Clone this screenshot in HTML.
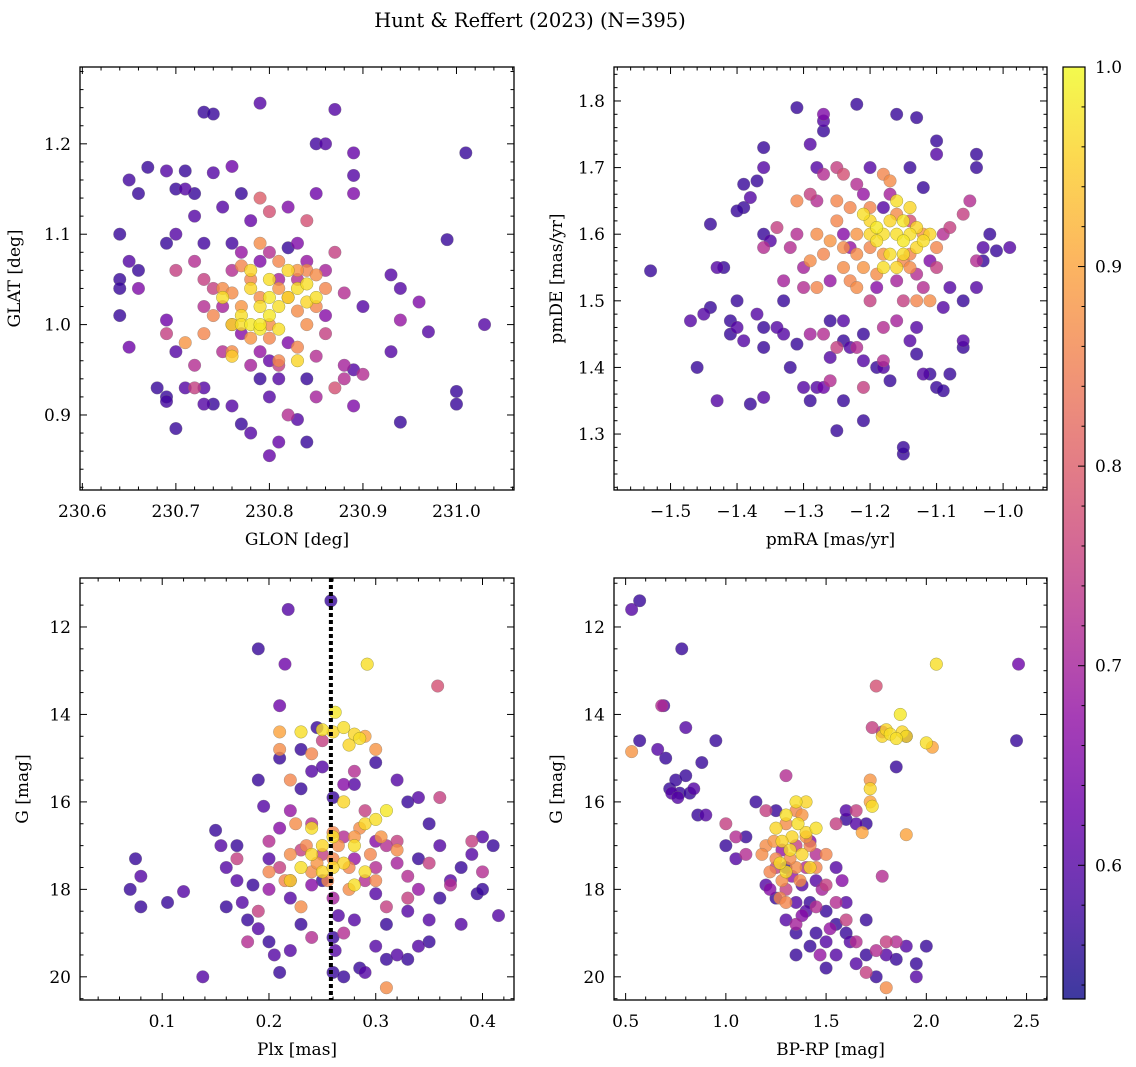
<!DOCTYPE html>
<html><head><meta charset="utf-8"><style>
body{margin:0;background:#fff}
svg{display:block;font-family:"DejaVu Serif","Liberation Serif",serif}
</style></head><body>
<svg id="chart" width="1136" height="1067" viewBox="0 0 1136 1067">
<text x="530" y="27" text-anchor="middle" font-size="19.5">Hunt &amp; Reffert (2023) (N=395)</text>
</svg>
<script>
// ---- data: [x, y, membership probability] ----
const skyPoints = [
[230.73,1.235,.57],[230.74,1.233,.57],[230.79,1.245,.6],[230.87,1.238,.6],[230.85,1.2,.58],[230.86,1.2,.6],[230.89,1.19,.62],[231.01,1.19,.57],[230.67,1.174,.57],[230.69,1.17,.6],[230.71,1.17,.57],[230.74,1.168,.6],[230.76,1.175,.63],[230.65,1.16,.58],[230.66,1.145,.57],[230.70,1.15,.57],[230.71,1.15,.6],[230.72,1.145,.57],[230.75,1.13,.6],[230.77,1.145,.57],[230.82,1.13,.65],[230.85,1.145,.63],[230.89,1.165,.6],[230.89,1.145,.65],[230.78,1.115,.62],[230.72,1.12,.6],[230.64,1.1,.57],[230.70,1.1,.6],[230.69,1.09,.57],[230.73,1.09,.58],[230.76,1.09,.58],[230.82,1.085,.57],[230.93,1.055,.6],[230.99,1.094,.57],[230.65,1.07,.6],[230.66,1.06,.57],[230.64,1.05,.57],[230.64,1.04,.57],[230.66,1.04,.65],[230.64,1.01,.57],[230.65,0.975,.63],[230.68,0.93,.57],[230.69,0.92,.57],[230.69,0.915,.58],[230.70,0.885,.57],[230.73,0.912,.6],[230.74,0.912,.57],[230.73,0.93,.6],[230.76,0.91,.6],[230.77,0.89,.57],[230.78,0.88,.6],[230.80,0.855,.62],[230.81,0.87,.62],[230.84,0.87,.57],[230.83,0.895,.6],[230.84,0.94,.57],[230.81,0.94,.6],[230.79,0.94,.57],[230.80,0.92,.6],[230.89,0.91,.65],[230.94,0.892,.57],[231.0,0.926,.57],[231.0,0.912,.57],[231.03,1.0,.6],[230.97,0.992,.6],[230.93,0.97,.6],[230.96,1.025,.65],[230.94,1.005,.68],[230.94,1.04,.6],[230.90,1.02,.6],[230.88,0.955,.7],[230.89,0.95,.6],[230.71,0.93,.6],[230.70,0.97,.6],[230.69,1.005,.63],
[230.69,0.99,.75],[230.70,1.06,.75],[230.72,1.07,.72],[230.73,1.05,.75],[230.76,1.06,.72],[230.79,1.14,.8],[230.80,1.125,.78],[230.84,1.115,.78],[230.87,1.08,.75],[230.88,1.035,.72],[230.86,0.99,.75],[230.85,0.965,.72],[230.81,0.955,.75],[230.78,0.955,.7],[230.75,0.97,.72],[230.73,1.02,.72],[230.74,1.04,.75],[230.87,0.93,.78],[230.88,0.94,.72],[230.72,0.955,.72],[230.85,0.92,.7],[230.82,0.9,.72],[230.76,1.0,.75],[230.83,1.05,.72],[230.80,1.08,.72],[230.90,0.945,.72],[230.72,0.93,.75],
[230.77,1.08,.68],[230.79,1.07,.65],[230.81,1.05,.7],[230.84,1.07,.68],[230.86,1.01,.66],[230.82,0.98,.65],[230.79,0.97,.68],[230.77,0.99,.66],[230.75,1.02,.7],[230.80,0.96,.62],[230.83,1.09,.65],[230.86,1.06,.7],
[230.71,0.98,.88],[230.75,1.04,.87],[230.77,1.065,.86],[230.79,1.09,.87],[230.81,1.07,.86],[230.83,1.06,.88],[230.85,1.055,.87],[230.86,1.04,.86],[230.84,1.0,.87],[230.83,0.975,.86],[230.78,0.985,.88],[230.76,0.97,.87],[230.74,1.01,.86],[230.80,1.0,.87],[230.82,1.03,.86],[230.79,1.03,.87],[230.85,1.02,.86],[230.77,1.02,.88],[230.73,0.99,.86],[230.81,0.96,.86],
[230.78,1.05,.86],[230.81,1.04,.88],[230.83,1.015,.87],[230.80,0.985,.86],[230.76,1.035,.87],[230.84,1.06,.86],
[230.75,1.03,.97],[230.76,1.0,.96],[230.77,1.01,.97],[230.78,1.0,.98],[230.79,1.02,.97],[230.80,1.01,.98],[230.81,1.02,.97],[230.82,1.03,.96],[230.83,1.04,.97],[230.84,1.025,.96],[230.85,1.03,.97],[230.78,1.04,.96],[230.80,1.05,.97],[230.82,1.06,.96],[230.79,0.995,.98],[230.81,0.995,.97],[230.83,0.96,.96],[230.76,0.965,.95],[230.80,1.03,.98],[230.78,1.06,.96],[230.84,1.045,.97],[230.77,1.0,.97],[230.79,1.0,.98]
];
const pmPoints = [
[-1.53,1.545,.57],[-1.47,1.47,.6],[-1.46,1.40,.57],[-1.44,1.49,.57],[-1.45,1.48,.6],[-1.44,1.615,.57],[-1.43,1.55,.6],[-1.42,1.55,.57],[-1.43,1.35,.6],[-1.40,1.5,.57],[-1.41,1.47,.57],[-1.40,1.46,.6],[-1.41,1.45,.57],[-1.39,1.44,.6],[-1.38,1.345,.57],[-1.36,1.355,.6],[-1.36,1.43,.57],[-1.36,1.46,.57],[-1.37,1.48,.6],[-1.39,1.64,.57],[-1.40,1.635,.57],[-1.39,1.675,.57],[-1.38,1.655,.6],[-1.37,1.68,.57],[-1.36,1.73,.57],[-1.36,1.7,.6],[-1.36,1.6,.57],[-1.35,1.59,.6],[-1.33,1.5,.57],[-1.33,1.45,.6],[-1.31,1.435,.57],[-1.31,1.79,.57],[-1.29,1.735,.6],[-1.28,1.7,.6],[-1.27,1.78,.65],[-1.27,1.77,.6],[-1.27,1.755,.57],[-1.30,1.37,.6],[-1.29,1.35,.57],[-1.28,1.37,.6],[-1.27,1.37,.63],[-1.25,1.305,.57],[-1.24,1.35,.57],[-1.24,1.47,.6],[-1.26,1.47,.57],[-1.22,1.795,.57],[-1.21,1.32,.57],[-1.21,1.41,.6],[-1.19,1.4,.57],[-1.18,1.4,.6],[-1.16,1.78,.57],[-1.15,1.27,.57],[-1.15,1.28,.57],[-1.13,1.775,.57],[-1.12,1.39,.6],[-1.11,1.39,.57],[-1.10,1.37,.57],[-1.09,1.365,.57],[-1.09,1.49,.6],[-1.08,1.39,.57],[-1.06,1.43,.57],[-1.06,1.44,.6],[-1.04,1.7,.57],[-1.04,1.72,.57],[-1.03,1.58,.6],[-1.03,1.56,.57],[-1.01,1.575,.57],[-0.99,1.58,.6],[-1.02,1.6,.57],[-1.04,1.52,.6],[-1.06,1.5,.57],[-1.08,1.52,.6],[-1.10,1.74,.57],[-1.10,1.72,.6],[-1.12,1.67,.57],[-1.14,1.7,.57],[-1.20,1.7,.6],[-1.18,1.64,.6],[-1.24,1.44,.57],[-1.23,1.43,.6],[-1.21,1.45,.57],[-1.14,1.44,.6],[-1.13,1.42,.57],[-1.13,1.46,.6],[-1.17,1.38,.57],[-1.34,1.46,.6],[-1.32,1.4,.57],[-1.26,1.415,.6],
[-1.36,1.58,.72],[-1.34,1.61,.75],[-1.32,1.58,.72],[-1.30,1.55,.7],[-1.29,1.66,.75],[-1.28,1.65,.72],[-1.27,1.69,.72],[-1.25,1.7,.75],[-1.24,1.69,.78],[-1.22,1.675,.72],[-1.30,1.52,.72],[-1.29,1.45,.7],[-1.27,1.45,.72],[-1.25,1.43,.75],[-1.22,1.43,.72],[-1.20,1.5,.75],[-1.18,1.46,.72],[-1.16,1.47,.7],[-1.15,1.5,.75],[-1.12,1.52,.72],[-1.10,1.55,.75],[-1.09,1.6,.72],[-1.06,1.63,.75],[-1.04,1.56,.72],[-1.05,1.65,.72],[-1.08,1.61,.75],[-1.13,1.54,.72],[-1.26,1.38,.72],[-1.21,1.37,.75],[-1.18,1.41,.72],[-1.31,1.6,.72],[-1.33,1.53,.7],[-1.14,1.62,.78],
[-1.23,1.58,.68],[-1.19,1.52,.66],[-1.16,1.53,.7],[-1.21,1.66,.68],[-1.11,1.56,.65],[-1.26,1.53,.68],[-1.17,1.66,.7],[-1.24,1.6,.66],
[-1.31,1.65,.86],[-1.28,1.6,.87],[-1.27,1.57,.86],[-1.26,1.59,.88],[-1.25,1.62,.86],[-1.24,1.55,.87],[-1.23,1.53,.86],[-1.22,1.52,.87],[-1.21,1.55,.88],[-1.20,1.58,.86],[-1.19,1.54,.87],[-1.18,1.69,.86],[-1.17,1.68,.87],[-1.15,1.56,.86],[-1.13,1.5,.86],[-1.11,1.5,.87],[-1.12,1.6,.88],[-1.25,1.65,.86],[-1.29,1.56,.87],[-1.23,1.64,.86],[-1.28,1.52,.86],[-1.22,1.6,.88],[-1.10,1.58,.86],[-1.14,1.55,.87],
[-1.22,1.57,.87],[-1.20,1.64,.86],[-1.18,1.57,.88],[-1.16,1.63,.87],[-1.14,1.57,.86],[-1.24,1.58,.87],
[-1.21,1.63,.97],[-1.20,1.62,.96],[-1.19,1.61,.98],[-1.18,1.6,.97],[-1.17,1.62,.96],[-1.16,1.6,.97],[-1.15,1.59,.98],[-1.14,1.6,.97],[-1.13,1.58,.96],[-1.12,1.59,.97],[-1.11,1.6,.96],[-1.17,1.57,.97],[-1.16,1.55,.96],[-1.18,1.55,.97],[-1.15,1.62,.98],[-1.14,1.64,.96],[-1.19,1.59,.97],[-1.20,1.6,.96],[-1.16,1.65,.97],[-1.13,1.61,.96],[-1.15,1.57,.97]
];
const plxPoints = [
[0.07,18.0,.57],[0.075,17.3,.57],[0.08,17.7,.6],[0.08,18.4,.57],[0.105,18.3,.57],[0.12,18.05,.6],[0.138,20.0,.6],[0.15,16.65,.57],[0.16,17.5,.6],[0.17,17.0,.57],[0.175,18.3,.6],[0.18,18.7,.57],[0.19,12.5,.57],[0.19,15.5,.57],[0.195,16.1,.6],[0.20,19.2,.57],[0.205,19.5,.6],[0.21,13.8,.63],[0.215,12.85,.63],[0.218,11.6,.6],[0.21,15.0,.57],[0.21,19.9,.57],[0.22,19.4,.6],[0.23,14.8,.57],[0.24,15.3,.6],[0.245,14.3,.57],[0.258,11.4,.57],[0.26,19.1,.57],[0.26,19.9,.57],[0.262,19.4,.6],[0.265,18.6,.6],[0.27,20.0,.57],[0.285,19.8,.57],[0.29,19.9,.6],[0.3,19.3,.6],[0.31,19.6,.57],[0.32,19.5,.6],[0.33,19.6,.57],[0.34,19.3,.6],[0.35,19.2,.57],[0.35,18.7,.6],[0.36,18.2,.57],[0.37,17.8,.6],[0.38,17.5,.57],[0.39,17.2,.6],[0.395,18.1,.57],[0.40,16.8,.6],[0.41,17.0,.57],[0.415,18.6,.6],[0.40,18.0,.57],[0.38,18.8,.6],[0.36,17.0,.6],[0.35,16.5,.57],[0.34,15.9,.6],[0.33,16.0,.57],[0.32,15.5,.6],[0.30,15.1,.57],[0.28,15.6,.6],[0.26,15.9,.57],[0.25,15.2,.6],[0.23,15.7,.57],[0.17,17.8,.6],[0.16,18.4,.57],[0.19,18.9,.6],[0.23,18.8,.57],[0.28,18.7,.6],[0.31,18.8,.57],[0.33,18.5,.6],[0.2,17.3,.6],[0.25,17.8,.57],[0.3,18.1,.6],[0.34,17.3,.57],[0.155,17.0,.6],[0.185,17.9,.57],[0.22,18.2,.6],
[0.18,19.2,.72],[0.19,18.5,.75],[0.2,16.9,.72],[0.21,17.5,.75],[0.22,17.8,.72],[0.23,17.1,.75],[0.24,16.5,.72],[0.25,17.2,.75],[0.27,16.8,.72],[0.29,16.2,.75],[0.31,17.0,.72],[0.32,16.9,.75],[0.33,17.7,.72],[0.35,17.4,.75],[0.37,17.9,.72],[0.39,16.9,.75],[0.4,17.6,.72],[0.36,15.9,.75],[0.28,15.3,.72],[0.25,14.6,.75],[0.29,17.8,.72],[0.31,18.4,.75],[0.27,19.0,.72],[0.17,17.3,.75],[0.358,13.35,.78],[0.24,19.1,.72],[0.33,18.2,.75],[0.3,17.5,.72],
[0.22,16.2,.68],[0.24,17.9,.66],[0.26,18.2,.7],[0.28,17.3,.68],[0.3,16.9,.66],[0.32,17.4,.7],[0.2,18.0,.68],[0.27,15.6,.66],[0.34,18.0,.68],[0.21,16.6,.66],
[0.21,14.4,.9],[0.21,14.8,.87],[0.22,15.5,.86],[0.3,14.8,.88],[0.31,20.25,.87],[0.24,14.9,.86],[0.225,16.5,.87],[0.235,17.0,.86],[0.245,17.4,.88],[0.255,17.8,.86],[0.265,17.0,.87],[0.275,17.5,.86],[0.285,16.6,.87],[0.295,17.2,.86],[0.305,16.8,.88],[0.215,17.8,.86],[0.275,18.0,.87],[0.2,17.6,.86],[0.32,17.1,.87],[0.26,16.7,.86],[0.23,18.4,.87],[0.29,14.5,.9],
[0.24,17.6,.87],[0.26,17.3,.86],[0.28,16.8,.88],[0.22,17.2,.87],[0.3,17.8,.86],
[0.292,12.85,.97],[0.262,13.95,.98],[0.27,14.3,.97],[0.28,14.45,.96],[0.285,14.55,.97],[0.275,14.7,.96],[0.25,14.35,.97],[0.26,14.4,.96],[0.23,14.4,.97],[0.22,17.8,.96],[0.24,16.6,.97],[0.25,17.0,.96],[0.26,16.8,.97],[0.27,17.4,.96],[0.28,17.0,.97],[0.29,16.5,.96],[0.3,16.4,.97],[0.31,16.2,.98],[0.27,16.0,.96],[0.23,17.5,.97],[0.25,17.6,.96],[0.29,17.6,.97],[0.26,17.5,.96],[0.28,17.9,.97],[0.24,17.2,.96]
];
const cmdPoints = [
[0.53,11.6,.6],[0.57,11.4,.57],[0.57,14.6,.57],[0.66,14.8,.6],[0.69,13.8,.6],[0.7,15.0,.57],[0.72,15.7,.57],[0.73,15.8,.6],[0.75,15.5,.57],[0.76,15.9,.6],[0.77,15.8,.57],[0.78,12.5,.57],[0.8,14.3,.6],[0.8,15.4,.57],[0.82,15.8,.57],[0.84,15.7,.6],[0.86,16.3,.57],[0.88,15.1,.57],[0.9,16.3,.6],[0.95,14.6,.57],[1.0,17.0,.57],[1.05,17.3,.6],[1.1,16.8,.57],[1.15,16.0,.57],[1.2,17.9,.6],[1.25,18.2,.57],[1.3,18.7,.6],[1.35,19.0,.57],[1.35,19.5,.57],[1.4,18.5,.6],[1.45,19.0,.57],[1.5,19.8,.57],[1.55,19.5,.6],[1.6,19.0,.57],[1.65,19.7,.6],[1.7,19.5,.57],[1.75,20.0,.57],[1.8,19.5,.6],[1.85,19.6,.57],[1.9,19.3,.6],[1.95,19.7,.57],[2.0,19.3,.57],[1.95,20.0,.6],[2.46,12.85,.63],[2.45,14.6,.57],[1.9,14.5,.6],[1.85,15.2,.57],[1.65,16.5,.6],[1.6,16.4,.57],[1.55,17.5,.6],[1.5,18.5,.57],[1.45,17.8,.6],[1.42,18.3,.57],[1.38,17.9,.6],[1.3,17.5,.57],[1.6,18.3,.6],[1.7,18.7,.57],[1.5,19.2,.6],[1.42,19.3,.57],[1.62,19.2,.6],[1.55,18.8,.57],[1.35,18.3,.6],[1.25,16.2,.57],[1.6,16.2,.6],[1.7,16.5,.57],
[0.68,13.8,.72],[1.0,16.5,.75],[1.05,16.8,.72],[1.2,16.2,.75],[1.3,15.4,.72],[1.35,17.0,.75],[1.45,17.2,.72],[1.5,17.9,.75],[1.55,18.3,.72],[1.6,18.7,.75],[1.65,19.2,.72],[1.7,19.9,.75],[1.75,19.4,.72],[1.8,19.2,.75],[1.85,19.2,.72],[1.73,14.3,.75],[1.78,14.4,.72],[1.75,13.35,.78],[1.65,16.2,.75],[1.4,17.5,.72],[1.3,18.0,.75],[1.45,18.4,.72],[1.25,17.5,.75],[1.1,17.2,.72],[1.55,16.5,.75],[1.78,17.7,.72],
[1.33,17.7,.68],[1.38,18.6,.66],[1.48,18.0,.7],[1.52,18.9,.68],[1.42,16.9,.66],[1.28,17.1,.68],[1.58,17.8,.66],[1.35,18.8,.7],[1.47,19.5,.68],[1.22,18.0,.66],
[0.53,14.85,.88],[1.8,20.25,.87],[1.72,15.5,.88],[1.72,16.0,.9],[1.68,16.7,.9],[1.9,16.75,.9],[2.03,14.75,.9],[1.2,17.0,.87],[1.25,17.3,.86],[1.3,16.5,.87],[1.35,16.2,.86],[1.4,16.8,.88],[1.45,17.5,.86],[1.28,17.8,.87],[1.22,17.6,.86],[1.35,17.5,.87],[1.5,17.2,.86],[1.18,17.2,.87],[1.27,18.2,.86],[1.38,16.3,.88],
[1.32,17.3,.87],[1.42,17.0,.86],[1.24,16.9,.88],[1.37,17.8,.87],[1.3,18.3,.86],
[2.05,12.85,.97],[1.78,14.5,.96],[1.82,14.45,.97],[1.87,14.0,.98],[1.9,14.5,.97],[1.88,14.4,.96],[1.85,14.55,.97],[1.8,14.35,.96],[2.0,14.65,.97],[1.72,15.7,.96],[1.73,16.1,.97],[1.25,16.6,.96],[1.3,16.3,.97],[1.33,16.8,.96],[1.36,16.5,.97],[1.4,16.7,.96],[1.32,17.1,.97],[1.28,16.9,.96],[1.45,16.6,.97],[1.38,17.2,.96],[1.3,17.6,.97],[1.42,17.5,.96],[1.35,16.0,.97],[1.4,16.0,.96],[1.27,17.4,.97]
];
const plxCut = [0.258];
const skyXTicks = [230.6,230.7,230.8,230.9,231.0];
const skyYTicks = [0.9,1.0,1.1,1.2];
const pmXTicks = [-1.5,-1.4,-1.3,-1.2,-1.1,-1.0];
const pmYTicks = [1.3,1.4,1.5,1.6,1.7,1.8];
const plxXTicks = [0.1,0.2,0.3,0.4];
const magTicks = [12,14,16,18,20];
const cmdXTicks = [0.5,1.0,1.5,2.0,2.5];
const cbarTicks = [0.6,0.7,0.8,0.9,1.0];
const cbarRange = [0.533,1.0];

const NS='http://www.w3.org/2000/svg';
const svg=document.getElementById('chart');
function mk(t,a,p){const e=document.createElementNS(NS,t);for(const k in a)e.setAttribute(k,a[k]);(p||svg).appendChild(e);return e;}
const plasma=[[13,8,135],[65,4,157],[106,0,168],[143,13,164],[177,42,144],[204,71,120],[225,100,98],[242,132,75],[252,166,54],[252,206,37],[240,249,33]];
function cmap(t){t=Math.max(0,Math.min(1,t));const f=t*(plasma.length-1),i=Math.min(plasma.length-2,Math.floor(f)),r=f-i;const a=plasma[i],b=plasma[i+1];return `rgb(${Math.round(a[0]+(b[0]-a[0])*r)},${Math.round(a[1]+(b[1]-a[1])*r)},${Math.round(a[2]+(b[2]-a[2])*r)})`;}
function pcol(p){return cmap((p-cbarRange[0])/(cbarRange[1]-cbarRange[0]));}
function lin(d0,d1,r0,r1){return v=>r0+(v-d0)/(d1-d0)*(r1-r0);}
function fmt(v,dec){return (v<0?'\u2212':'')+Math.abs(v).toFixed(dec);}

function panel(o){
  const g=mk('g',{});
  
  
  const sx=lin(o.xd[0],o.xd[1],o.x0,o.x1), sy=lin(o.yd[0],o.yd[1],o.y1,o.y0);
  const pg=mk('g',{},g);
  
  
  const pts=o.data.slice().sort((a,b)=>a[2]-b[2]);
  pts.forEach(d=>{const c=mk('circle',{cx:sx(d[0]),cy:sy(d[1]),r:6.3,fill:pcol(d[2]),'fill-opacity':0.8,stroke:d[2]>0.93?'#6b6b20':'#777','stroke-width':0.5,'stroke-opacity':0.6},pg);
    
    });
  if(o.vline){o.vline.forEach(v=>{const l=mk('line',{x1:sx(v),x2:sx(v),y1:o.y0,y2:o.y1,stroke:'#000','stroke-width':4,'stroke-dasharray':'4 3'},g);
    
    });}
  const fr=mk('rect',{x:o.x0,y:o.y0,width:o.x1-o.x0,height:o.y1-o.y0,fill:'none',stroke:'#000','stroke-width':1.3},g);
  
  
  const tg=mk('g',{stroke:'#000','stroke-width':1},g);
  const xmin=Math.min(...o.xd),xmax=Math.max(...o.xd),ymin=Math.min(...o.yd),ymax=Math.max(...o.yd);
  for(let k=Math.ceil(xmin/o.xm-1e-6);k*o.xm<=xmax+1e-9;k++){const x=sx(k*o.xm);const maj=o.xt.some(t=>Math.abs(t-k*o.xm)<1e-6);const L=maj?7:3.5;
    mk('line',{x1:x,x2:x,y1:o.y1,y2:o.y1-L},tg);mk('line',{x1:x,x2:x,y1:o.y0,y2:o.y0+L},tg);}
  for(let k=Math.ceil(ymin/o.ym-1e-6);k*o.ym<=ymax+1e-9;k++){const y=sy(k*o.ym);const maj=o.yt.some(t=>Math.abs(t-k*o.ym)<1e-6);const L=maj?7:3.5;
    mk('line',{x1:o.x0,x2:o.x0+L,y1:y,y2:y},tg);mk('line',{x1:o.x1,x2:o.x1-L,y1:y,y2:y},tg);}
  o.xt.forEach(t=>{const e=mk('text',{x:sx(t),y:o.y1+27,'text-anchor':'middle','font-size':17},g);e.textContent=fmt(t,o.xdec);
    
    });
  o.yt.forEach(t=>{const e=mk('text',{x:o.x0-9,y:sy(t)+6,'text-anchor':'end','font-size':17},g);e.textContent=fmt(t,o.ydec);
    
    });
  const xl=mk('text',{x:(o.x0+o.x1)/2,y:o.y1+55,'text-anchor':'middle','font-size':17},g);xl.textContent=o.xlabel;
  
  
  const yx=o.x0-o.ylo, yy=(o.y0+o.y1)/2;
  const yl=mk('text',{x:yx,y:yy,'text-anchor':'middle','font-size':17,transform:`rotate(-90 ${yx} ${yy})`},g);yl.textContent=o.ylabel;
  
  
}
panel({name:'sky-panel',data:skyPoints,x0:80,x1:514,y0:67,y1:490,xd:[230.5975,231.0615],yd:[0.817,1.285],xt:skyXTicks,yt:skyYTicks,xm:0.02,ym:0.02,xdec:1,ydec:1,xlabel:'GLON [deg]',ylabel:'GLAT [deg]',ylo:60});
panel({name:'proper-motion-panel',data:pmPoints,x0:614,x1:1047,y0:67,y1:490,xd:[-1.585,-0.934],yd:[1.216,1.851],xt:pmXTicks,yt:pmYTicks,xm:0.02,ym:0.02,xdec:1,ydec:1,xlabel:'pmRA [mas/yr]',ylabel:'pmDE [mas/yr]',ylo:52});
panel({name:'parallax-panel',data:plxPoints,x0:80,x1:514,y0:578,y1:1000,xd:[0.023,0.4295],yd:[20.53,10.88],xt:plxXTicks,yt:magTicks,xm:0.02,ym:0.5,xdec:1,ydec:0,xlabel:'Plx [mas]',ylabel:'G [mag]',ylo:52,vline:plxCut});
panel({name:'cmd-panel',data:cmdPoints,x0:614,x1:1047,y0:578,y1:1000,xd:[0.442,2.602],yd:[20.53,10.88],xt:cmdXTicks,yt:magTicks,xm:0.1,ym:0.5,xdec:1,ydec:0,xlabel:'BP-RP [mag]',ylabel:'G [mag]',ylo:52});

const cb=mk('g',{});


const defs=mk('defs',{},cb);const lg=mk('linearGradient',{id:'pl',x1:0,y1:1,x2:0,y2:0},defs);
for(let i=0;i<=20;i++){mk('stop',{offset:i/20,'stop-color':cmap(i/20),'stop-opacity':0.8},lg);}
const cx0=1063,cx1=1085,cy0=67,cy1=999;
mk('rect',{x:cx0,y:cy0,width:cx1-cx0,height:cy1-cy0,fill:'url(#pl)',stroke:'#000','stroke-width':1.2},cb);
const cs=lin(cbarRange[0],cbarRange[1],cy1,cy0);
for(let k=Math.ceil(cbarRange[0]/0.02-1e-6);k*0.02<=cbarRange[1]+1e-9;k++){const v=k*0.02,y=cs(v);const maj=cbarTicks.some(t=>Math.abs(t-v)<1e-6);
  mk('line',{x1:cx1,x2:cx1-(maj?7:3.5),y1:y,y2:y,stroke:'#000','stroke-width':1},cb);}
cbarTicks.forEach(t=>{const e=mk('text',{x:cx1+10,y:cs(t)+6,'font-size':17},cb);e.textContent=t.toFixed(1);
  
  });
</script>
</body></html>
